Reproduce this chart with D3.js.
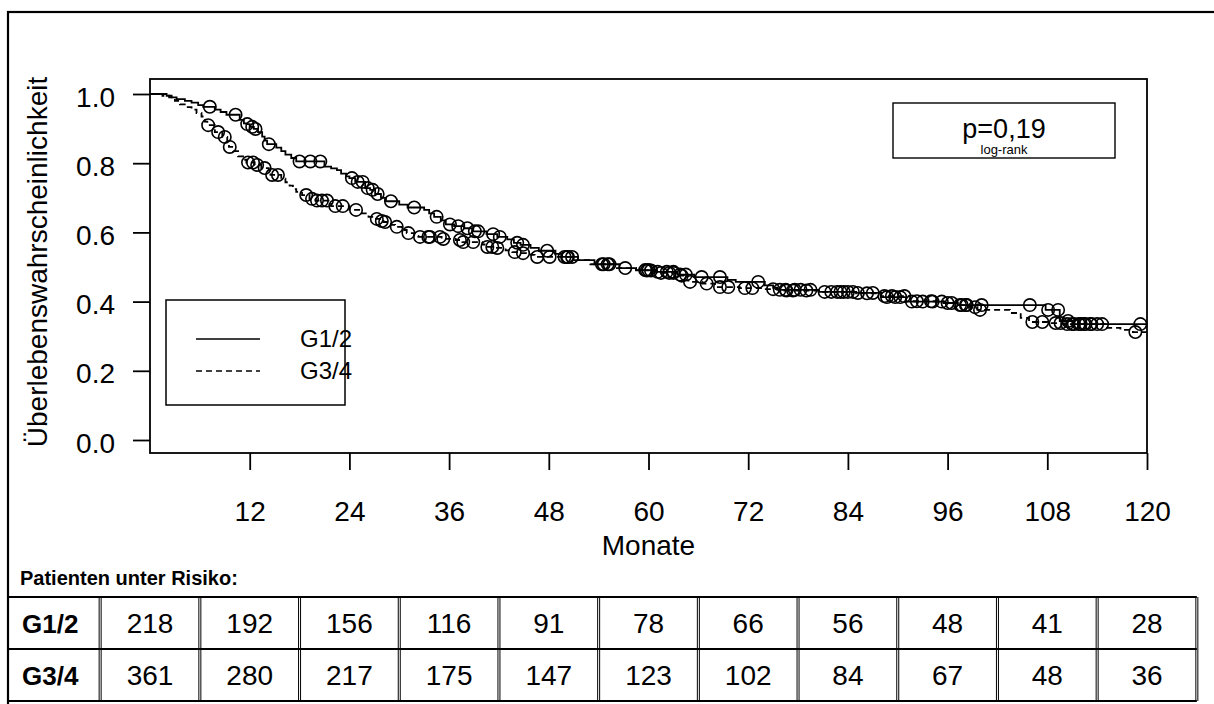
<!DOCTYPE html>
<html>
<head>
<meta charset="utf-8">
<script src="https://cdn.jsdelivr.net/npm/d3@7"></script>
<style>
  body { margin: 0; background: #fff; }
  svg { display: block; }
  text { font-family: "Liberation Sans", Arial, Helvetica, sans-serif; fill: #000; }
</style>
</head>
<body>
<svg id="chart" width="1214" height="704"></svg>
<script>
// Kaplan-Meier steps: time (months) of each drop and survival after it
const g12Times = [2.0, 2.6, 3.2, 4.2, 5.0, 5.8, 6.4, 7.8, 8.5, 9.2, 10.8, 11.3, 11.6, 12.0, 12.5, 13.0, 13.5, 13.8, 14.1,
  15.2, 15.8, 16.3, 17.0, 17.6, 21.0, 21.8, 22.5, 23.0, 23.6, 24.0, 24.7, 25.9, 26.5, 27.1, 27.8, 28.4, 30.0, 31.0,
  33.0, 33.6, 34.2, 35.0, 35.6, 36.6, 37.8, 38.8, 40.5, 41.8, 43.0, 43.8, 44.6, 45.8, 46.8, 48.8, 49.6, 51.5, 53.5,
  56.5, 58.5, 60.6, 63.5, 65.5, 69.5, 70.5, 74.0, 75.0, 75.5, 80.5, 85.0, 88.0, 91.0, 95.7, 97.2, 107.8, 109.5, 111.0];
const g12Surv = [0.995, 0.99, 0.985, 0.98, 0.975, 0.968, 0.963, 0.955, 0.948, 0.94, 0.925, 0.915, 0.913, 0.905, 0.899, 0.89, 0.877, 0.865, 0.855,
  0.845, 0.835, 0.825, 0.815, 0.805, 0.79, 0.785, 0.78, 0.77, 0.762, 0.757, 0.746, 0.728, 0.723, 0.711, 0.70, 0.69, 0.68, 0.672,
  0.665, 0.655, 0.645, 0.635, 0.623, 0.618, 0.612, 0.603, 0.595, 0.587, 0.58, 0.57, 0.564, 0.555, 0.547, 0.538, 0.529, 0.52, 0.508,
  0.497, 0.491, 0.486, 0.478, 0.471, 0.463, 0.457, 0.447, 0.44, 0.434, 0.428, 0.425, 0.413, 0.40, 0.396, 0.39, 0.376, 0.344, 0.335];
const g12Censor = [7.2, 10.3, 11.7, 12.3, 12.7, 14.3, 18.0, 19.3, 20.5, 24.3, 25.0, 25.6, 26.2, 26.8, 27.4, 29.0, 31.8, 34.5,
  36.1, 37.1, 38.2, 39.1, 39.5, 41.3, 42.1, 44.2, 44.9, 47.8, 50.2, 50.8, 54.4, 55.1, 57.2, 59.6, 60.0, 61.1, 62.2, 63.0,
  63.8, 64.5, 66.4, 68.6, 73.2, 75.8, 76.5, 77.6, 78.3, 79.5, 81.2, 82.7, 83.1, 84.0, 85.2, 87.0, 88.7, 89.7, 90.3, 91.7,
  93.0, 94.2, 95.3, 96.5, 97.7, 98.3, 100.1, 105.9, 108.1, 109.3, 110.5, 111.2, 112.0, 112.6, 113.3, 114.0, 119.2];

const g34Times = [1.5, 2.3, 3.0, 3.6, 4.3, 5.0, 5.6, 6.2, 6.6, 6.9, 7.8, 8.7, 9.3, 9.5, 10.0, 10.6, 11.2, 11.6, 12.6, 13.4,
  14.3, 14.5, 15.8, 16.3, 16.8, 17.2, 17.6, 18.3, 19.2, 19.9, 21.8, 24.0, 25.5, 26.3, 27.0, 27.7, 28.1, 29.0, 29.5, 30.3,
  30.9, 31.8, 32.3, 35.1, 36.8, 37.6, 40.0, 40.4, 41.6, 42.8, 43.6, 44.6, 45.8, 46.3, 51.0, 53.0, 56.0, 58.5, 61.0, 63.5,
  64.3, 64.8, 66.5, 68.0, 71.0, 74.0, 76.0, 80.5, 85.0, 88.0, 91.5, 95.5, 97.2, 98.7, 99.6, 103.5, 104.8, 105.8, 108.0,
  110.0, 115.0, 116.8, 118.3];
const g34Surv = [0.995, 0.99, 0.98, 0.97, 0.962, 0.955, 0.945, 0.935, 0.92, 0.91, 0.89, 0.876, 0.86, 0.847, 0.835, 0.82, 0.81, 0.802, 0.795, 0.786,
  0.775, 0.766, 0.755, 0.745, 0.735, 0.725, 0.717, 0.708, 0.697, 0.692, 0.676, 0.665, 0.655, 0.645, 0.639, 0.633, 0.63, 0.622, 0.616, 0.607,
  0.598, 0.59, 0.587, 0.581, 0.578, 0.572, 0.565, 0.558, 0.555, 0.548, 0.543, 0.54, 0.535, 0.529, 0.52, 0.508, 0.497, 0.49, 0.483, 0.475,
  0.462, 0.457, 0.452, 0.442, 0.439, 0.436, 0.432, 0.428, 0.424, 0.416, 0.401, 0.396, 0.39, 0.384, 0.376, 0.367, 0.353, 0.341, 0.338,
  0.335, 0.324, 0.318, 0.312];
const g34Censor = [7.0, 8.2, 9.0, 9.6, 11.8, 12.4, 12.9, 13.8, 14.7, 15.4, 18.8, 19.5, 20.1, 20.7, 21.3, 22.3, 23.2, 24.8,
  27.3, 27.9, 28.3, 29.7, 31.1, 32.5, 33.5, 33.7, 34.9, 35.3, 37.3, 37.7, 38.9, 40.6, 41.2, 41.8, 43.9, 44.9, 46.6, 48.1,
  49.9, 50.3, 54.6, 55.3, 59.8, 60.3, 61.5, 62.5, 63.0, 64.0, 65.0, 67.0, 68.6, 69.6, 71.6, 72.5, 75.0, 76.6, 77.4, 79.0,
  82.0, 83.5, 84.6, 86.3, 88.4, 89.3, 90.8, 92.3, 94.0, 96.0, 97.5, 98.2, 99.3, 99.9, 106.2, 107.4, 109.0, 109.6, 110.4,
  111.0, 111.8, 112.4, 113.2, 114.6, 118.6];

const groupNames = ["G1/2", "G3/4"];
const xTicks = [12, 24, 36, 48, 60, 72, 84, 96, 108, 120];
const yTicks = [0.0, 0.2, 0.4, 0.6, 0.8, 1.0];
const riskMonths = [0, 12, 24, 36, 48, 60, 72, 84, 96, 108, 120];
const riskG12 = [218, 192, 156, 116, 91, 78, 66, 56, 48, 41, 28];
const riskG34 = [361, 280, 217, 175, 147, 123, 102, 84, 67, 48, 36];

const svg = d3.select("#chart");
const x = d3.scaleLinear().domain([0, 120]).range([150, 1147]);
const y = d3.scaleLinear().domain([0, 1]).range([440, 94]);

// outer frame
svg.append("rect").attr("x", 8).attr("y", 12).attr("width", 1300).attr("height", 800)
  .attr("fill", "none").attr("stroke", "#000").attr("stroke-width", 2.2);

// plot box
svg.append("rect").attr("x", x(0)).attr("y", 79).attr("width", x(120) - x(0)).attr("height", 453 - 79)
  .attr("fill", "none").attr("stroke", "#000").attr("stroke-width", 1.8);

// axes
const yAxis = svg.append("g").attr("transform", `translate(${x(0)},0)`)
  .call(d3.axisLeft(y).tickValues(yTicks).tickFormat(d3.format(".1f")).tickSize(17).tickPadding(18));
const xAxis = svg.append("g").attr("transform", "translate(0,453)")
  .call(d3.axisBottom(x).tickValues(xTicks).tickSize(17).tickPadding(31));
[yAxis, xAxis].forEach(a => {
  a.select(".domain").remove();
  a.selectAll("line").attr("stroke", "#000").attr("stroke-width", 1.8);
  a.selectAll("text").attr("font-size", 28).attr("font-family", "Liberation Sans, Arial, sans-serif").attr("fill", "#000");
});
yAxis.selectAll("text").attr("dy", "0.43em");

svg.append("text").attr("x", (x(0) + x(120)) / 2).attr("y", 555).attr("text-anchor", "middle")
  .attr("font-size", 28).text("Monate");
svg.append("text").attr("transform", `translate(47,${(y(0) + y(1)) / 2 - 5}) rotate(-90)`)
  .attr("text-anchor", "middle").attr("font-size", 28).text("Überlebenswahrscheinlichkeit");

// survival curves
function kmPoints(times, surv) {
  const pts = [[0, 1]];
  times.forEach((t, i) => pts.push([t, surv[i]]));
  pts.push([120, surv[surv.length - 1]]);
  return pts;
}
function survAt(times, surv, t) {
  let s = 1;
  for (let i = 0; i < times.length; i++) { if (times[i] <= t) s = surv[i]; }
  return s;
}
const step = d3.line().x(d => x(d[0])).y(d => y(d[1])).curve(d3.curveStepAfter);
const series = [
  { times: g12Times, surv: g12Surv, censor: g12Censor, dash: null },
  { times: g34Times, surv: g34Surv, censor: g34Censor, dash: "6,4" }
];
series.forEach(s => {
  svg.append("path").datum(kmPoints(s.times, s.surv)).attr("d", step)
    .attr("fill", "none").attr("stroke", "#000").attr("stroke-width", 1.8)
    .attr("stroke-dasharray", s.dash);
  svg.append("g").selectAll("circle").data(s.censor).join("circle")
    .attr("cx", d => x(d)).attr("cy", d => y(survAt(s.times, s.surv, d)))
    .attr("r", 6.2).attr("fill", "none").attr("stroke", "#000").attr("stroke-width", 1.6);
});

// legend
svg.append("rect").attr("x", 166).attr("y", 300).attr("width", 179).attr("height", 105)
  .attr("fill", "#fff").attr("stroke", "#000").attr("stroke-width", 1.5);
groupNames.forEach((name, i) => {
  const ly = 339 + i * 32;
  svg.append("line").attr("x1", 196).attr("x2", 260).attr("y1", ly).attr("y2", ly)
    .attr("stroke", "#000").attr("stroke-width", 1.6).attr("stroke-dasharray", series[i].dash);
  svg.append("text").attr("x", 300).attr("y", ly + 8).attr("font-size", 24).text(name);
});

// p-value box
svg.append("rect").attr("x", 893).attr("y", 103).attr("width", 222).attr("height", 55)
  .attr("fill", "#fff").attr("stroke", "#000").attr("stroke-width", 1.4);
svg.append("text").attr("x", 1004).attr("y", 138).attr("text-anchor", "middle").attr("font-size", 27).text("p=0,19");
svg.append("text").attr("x", 1004).attr("y", 154).attr("text-anchor", "middle").attr("font-size", 13).text("log-rank");

// numbers at risk table
svg.append("text").attr("x", 20).attr("y", 585).attr("font-size", 20).attr("font-weight", "bold")
  .text("Patienten unter Risiko:");
const tableTop = 597, rowH = 52;
const colEdges = [8].concat(riskMonths.map(m => x(m - 6))).concat([x(126)]);
const tbl = svg.append("g");
[tableTop, tableTop + rowH, tableTop + 2 * rowH].forEach(yy => {
  tbl.append("line").attr("x1", 8).attr("x2", x(126)).attr("y1", yy).attr("y2", yy)
    .attr("stroke", "#000").attr("stroke-width", 2);
});
colEdges.slice(1).forEach(xx => {
  [-1, 1].forEach(off => {
    tbl.append("line").attr("x1", xx + off).attr("x2", xx + off).attr("y1", tableTop).attr("y2", tableTop + 2 * rowH)
      .attr("stroke", "#000").attr("stroke-width", 1);
  });
});
[riskG12, riskG34].forEach((row, r) => {
  const by = tableTop + r * rowH + 36;
  tbl.append("text").attr("x", 22).attr("y", by).attr("font-size", 26).attr("font-weight", "bold").text(groupNames[r]);
  tbl.selectAll(null).data(row).join("text")
    .attr("x", (d, i) => x(riskMonths[i])).attr("y", by).attr("text-anchor", "middle")
    .attr("font-size", 28).text(d => d);
});
</script>
</body>
</html>
